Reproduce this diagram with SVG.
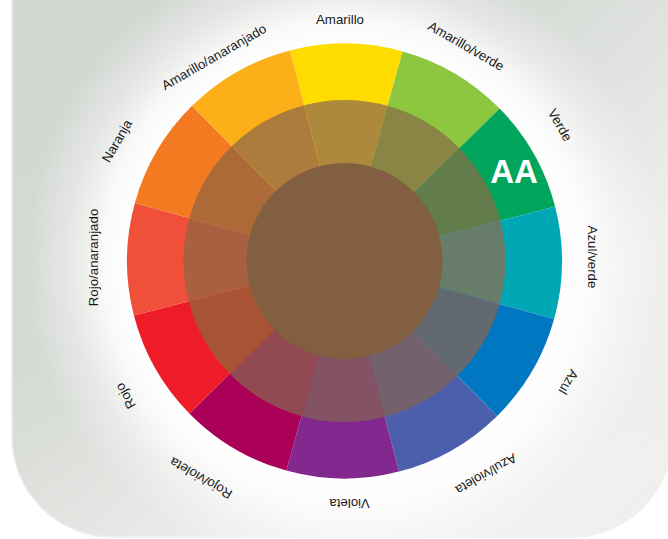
<svg xmlns="http://www.w3.org/2000/svg" width="668" height="539" viewBox="0 0 668 539">
  <defs>
    <linearGradient id="bgLin" x1="0.25" y1="0" x2="0.75" y2="1">
      <stop offset="0" stop-color="#D2D6D1"/>
      <stop offset="0.5" stop-color="#D6DAD5"/>
      <stop offset="1" stop-color="#EAEBE8"/>
    </linearGradient>
    <radialGradient id="halo" gradientUnits="userSpaceOnUse" cx="344.5" cy="261" r="340">
      <stop offset="0.63" stop-color="#FFFFFF" stop-opacity="1"/>
      <stop offset="0.71" stop-color="#FFFFFF" stop-opacity="0.85"/>
      <stop offset="0.82" stop-color="#FFFFFF" stop-opacity="0.35"/>
      <stop offset="0.94" stop-color="#FFFFFF" stop-opacity="0"/>
    </radialGradient>
    <linearGradient id="streak" x1="0" y1="0" x2="1" y2="1">
      <stop offset="0.45" stop-color="#FFFFFF" stop-opacity="0"/>
      <stop offset="0.75" stop-color="#FFFFFF" stop-opacity="0.45"/>
      <stop offset="1" stop-color="#FFFFFF" stop-opacity="0.2"/>
    </linearGradient>
  </defs>
  <style>
    .lbl { font-family: "Liberation Sans", Arial, Helvetica, sans-serif; font-size: 13.3px; fill: #1A1A1A; text-anchor: middle; dominant-baseline: central; }
    .aa { font-family: "Liberation Sans", Arial, Helvetica, sans-serif; font-size: 33px; font-weight: bold; fill: #FFFFFF; text-anchor: middle; }
  </style>

  <rect x="0" y="0" width="668" height="539" fill="#FFFFFF"/>
  <g id="panel">
    <rect x="12" y="-120" width="660" height="657" rx="100" ry="100" fill="url(#bgLin)" stroke="#ECEEEC" stroke-width="1.5"/>
    <rect x="12" y="-120" width="660" height="657" rx="100" ry="100" fill="url(#streak)"/>
    <rect x="12" y="-120" width="660" height="657" rx="100" ry="100" fill="url(#halo)"/>
  </g>

  <g id="wheel" transform="rotate(0.5 344.5 261)">
    <g id="amarillo">
      <path d="M344.5 261 L288.207 50.911 A217.5 217.5 0 0 1 400.793 50.911 Z" fill="#FEDC00"/>
      <path d="M344.5 261 L302.830 105.486 A161 161 0 0 1 386.170 105.486 Z" fill="#AD893D"/>
    </g>
    <g id="amarillo-verde">
      <path d="M344.5 261 L400.793 50.911 A217.5 217.5 0 0 1 498.296 107.204 Z" fill="#8DC63F"/>
      <path d="M344.5 261 L386.170 105.486 A161 161 0 0 1 458.344 147.156 Z" fill="#8A8544"/>
    </g>
    <g id="verde">
      <path d="M344.5 261 L498.296 107.204 A217.5 217.5 0 0 1 554.589 204.707 Z" fill="#00A45A"/>
      <path d="M344.5 261 L458.344 147.156 A161 161 0 0 1 500.014 219.330 Z" fill="#627C4B"/>
    </g>
    <g id="azul-verde">
      <path d="M344.5 261 L554.589 204.707 A217.5 217.5 0 0 1 554.589 317.293 Z" fill="#00A8B6"/>
      <path d="M344.5 261 L500.014 219.330 A161 161 0 0 1 500.014 302.670 Z" fill="#687D69"/>
    </g>
    <g id="azul">
      <path d="M344.5 261 L554.589 317.293 A217.5 217.5 0 0 1 498.296 414.796 Z" fill="#0077C0"/>
      <path d="M344.5 261 L500.014 302.670 A161 161 0 0 1 458.344 374.844 Z" fill="#626970"/>
    </g>
    <g id="azul-violeta">
      <path d="M344.5 261 L498.296 414.796 A217.5 217.5 0 0 1 400.793 471.089 Z" fill="#4B5FAD"/>
      <path d="M344.5 261 L458.344 374.844 A161 161 0 0 1 386.170 416.514 Z" fill="#73626B"/>
    </g>
    <g id="violeta">
      <path d="M344.5 261 L400.793 471.089 A217.5 217.5 0 0 1 288.207 471.089 Z" fill="#82288F"/>
      <path d="M344.5 261 L386.170 416.514 A161 161 0 0 1 302.830 416.514 Z" fill="#835263"/>
    </g>
    <g id="rojo-violeta">
      <path d="M344.5 261 L288.207 471.089 A217.5 217.5 0 0 1 190.704 414.796 Z" fill="#AA0058"/>
      <path d="M344.5 261 L302.830 416.514 A161 161 0 0 1 230.656 374.844 Z" fill="#924A52"/>
    </g>
    <g id="rojo">
      <path d="M344.5 261 L190.704 414.796 A217.5 217.5 0 0 1 134.411 317.293 Z" fill="#ED1C27"/>
      <path d="M344.5 261 L230.656 374.844 A161 161 0 0 1 188.986 302.670 Z" fill="#A85434"/>
    </g>
    <g id="rojo-anaranjado">
      <path d="M344.5 261 L134.411 317.293 A217.5 217.5 0 0 1 134.411 204.707 Z" fill="#F05039"/>
      <path d="M344.5 261 L188.986 302.670 A161 161 0 0 1 188.986 219.330 Z" fill="#A86040"/>
    </g>
    <g id="naranja">
      <path d="M344.5 261 L134.411 204.707 A217.5 217.5 0 0 1 190.704 107.204 Z" fill="#F47A22"/>
      <path d="M344.5 261 L188.986 219.330 A161 161 0 0 1 230.656 147.156 Z" fill="#AB6A37"/>
    </g>
    <g id="amarillo-anaranjado">
      <path d="M344.5 261 L190.704 107.204 A217.5 217.5 0 0 1 288.207 50.911 Z" fill="#FCAF19"/>
      <path d="M344.5 261 L230.656 147.156 A161 161 0 0 1 302.830 105.486 Z" fill="#AB7C3B"/>
    </g>
    <g id="centro">
      <circle cx="344.5" cy="261" r="98" fill="#825F40"/>
    </g>
  </g>

  <g id="aa-mark">
    <text class="aa" x="514" y="183">AA</text>
  </g>

  <g id="labels">
    <text class="lbl" x="340" y="19">Amarillo</text>
    <text class="lbl" x="466" y="46" transform="rotate(30 466 46)">Amarillo/verde</text>
    <text class="lbl" x="560" y="125" transform="rotate(60 560 125)">Verde</text>
    <text class="lbl" x="592.5" y="257" transform="rotate(90 592.5 257)">Azul/verde</text>
    <text class="lbl" x="568.5" y="382" transform="rotate(120 568.5 382)">Azul</text>
    <text class="lbl" x="486" y="474" transform="rotate(150 486 474)">Azul/violeta</text>
    <text class="lbl" x="349.5" y="503" transform="rotate(180 349.5 503)">Violeta</text>
    <text class="lbl" x="201" y="478" transform="rotate(210 201 478)">Rojo/violeta</text>
    <text class="lbl" x="125.5" y="396" transform="rotate(240 125.5 396)">Rojo</text>
    <text class="lbl" x="93.5" y="257.5" transform="rotate(270 93.5 257.5)">Rojo/anaranjado</text>
    <text class="lbl" x="117" y="141" transform="rotate(300 117 141)">Naranja</text>
    <text class="lbl" x="214" y="57" transform="rotate(330 214 57)">Amarillo/anaranjado</text>
  </g>
</svg>
